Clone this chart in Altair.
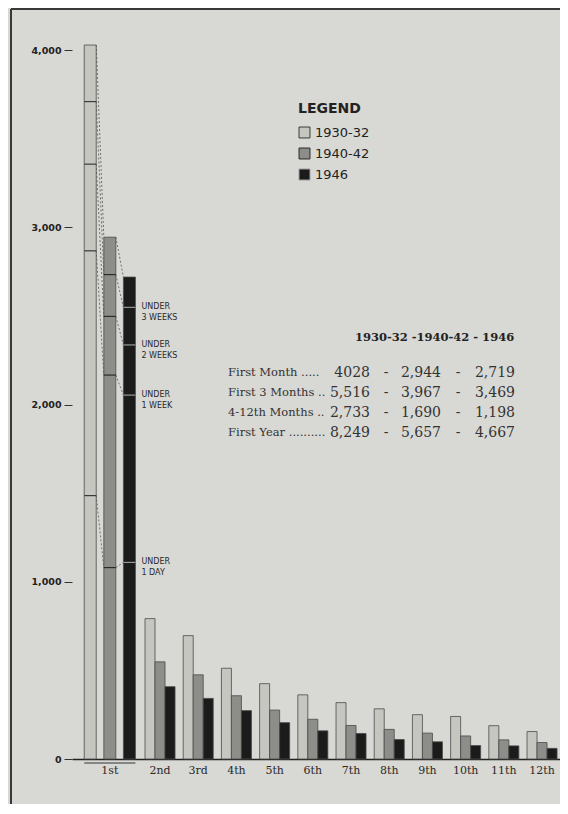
import altair as alt
import pandas as pd

# ---------------- data ----------------
months = ["1st", "2nd", "3rd", "4th", "5th", "6th", "7th", "8th", "9th", "10th", "11th", "12th"]
series = ["1930-32", "1940-42", "1946"]
rate_1930_32 = [4028, 792, 696, 512, 425, 362, 318, 283, 250, 240, 188, 155]
rate_1940_42 = [2944, 548, 475, 357, 276, 224, 189, 167, 146, 130, 108, 93]
rate_1946 = [2719, 408, 342, 273, 205, 159, 144, 110, 97, 76, 74, 60]

level_names = ["UNDER\n3 WEEKS", "UNDER\n2 WEEKS", "UNDER\n1 WEEK", "UNDER\n1 DAY"]
first_month_1930_32 = [3709, 3356, 2867, 1486]
first_month_1940_42 = [2733, 2497, 2166, 1080]
first_month_1946 = [2548, 2336, 2053, 1109]

table_header = "1930-32 -1940-42 - 1946"
table_labels = ["First Month .....", "First 3 Months ..", "4-12th Months ..", "First Year .........."]
table_1930_32 = ["4028", "5,516", "2,733", "8,249"]
table_1940_42 = ["2,944", "3,967", "1,690", "5,657"]
table_1946 = ["2,719", "3,469", "1,198", "4,667"]

y_ticks = [0, 1000, 2000, 3000, 4000]

# ---------------- layout helpers ----------------
W, H = 488, 709
rates = [rate_1930_32, rate_1940_42, rate_1946]
levels = [first_month_1930_32, first_month_1940_42, first_month_1946]


def bar_span(m, k):
    if m == 0:
        c = 0.686 + (k - 1) * 0.513
        hw = 0.157
    else:
        c = (m + 1) + (k - 1) * 0.262
        hw = 0.131
    return c - hw, c + hw


def group_center(m):
    return 0.686 if m == 0 else m + 1


bar_rows = []
for m, mon in enumerate(months):
    for k, s in enumerate(series):
        xl, xr = bar_span(m, k)
        bar_rows.append({"month": mon, "series": s, "value": rates[k][m], "xl": xl, "xr": xr})
bars_df = pd.DataFrame(bar_rows)

seg_rows = []
for k, s in enumerate(series):
    xl, xr = bar_span(0, k)
    for j, name in enumerate(level_names):
        seg_rows.append({"series": s, "level": name, "value": levels[k][j], "xl": xl, "xr": xr})
seg_df = pd.DataFrame(seg_rows)

con_rows = []
for k in range(len(series) - 1):
    a_r = bar_span(0, k)[1]
    b_l = bar_span(0, k + 1)[0]
    con_rows.append({"x": a_r, "x2": b_l, "y": rates[k][0], "y2": rates[k + 1][0]})
    for j in range(len(level_names)):
        con_rows.append({"x": a_r, "x2": b_l, "y": levels[k][j], "y2": levels[k + 1][j]})
con_df = pd.DataFrame(con_rows)

lab_df = pd.DataFrame({"month": months, "center": [group_center(m) for m in range(len(months))]})

fills = ["#c6c6c1", "#8d8d8a", "#1b1b1b"]
tick_cols = ["#3a3a3a", "#2a2a2a", "#9a9a9a"]

xs = alt.Scale(domain=[-0.304, 12.47], nice=False, zero=False)
ys = alt.Scale(domain=[0, 4000], nice=False)

bars = alt.Chart(bars_df).mark_rect(stroke="#4a4a4a", strokeWidth=0.8).encode(
    x=alt.X("xl:Q", scale=xs, axis=alt.Axis(labels=False, ticks=False, grid=False, domain=True,
                                           domainColor="#222222", domainWidth=1.4, title=None)),
    x2="xr:Q",
    y=alt.Y("value:Q", scale=ys, axis=alt.Axis(values=y_ticks, format=",d", grid=False, domain=False,
                                               tickSize=8, tickColor="#333333", labelPadding=3,
                                               labelFont="DejaVu Sans", labelFontWeight="bold",
                                               labelFontSize=9.5, labelColor="#222222", title=None)),
    y2=alt.datum(0),
    fill=alt.Fill("series:N", scale=alt.Scale(domain=series, range=fills),
                  legend=alt.Legend(title="LEGEND", orient="none", legendX=226, legendY=52,
                                    symbolType="square", symbolSize=120, symbolStrokeColor="#4a4a4a",
                                    symbolStrokeWidth=1, labelFont="DejaVu Sans", labelFontSize=13,
                                    labelColor="#222222", titleFont="DejaVu Sans", titleFontSize=14,
                                    titleFontWeight="bold", titleColor="#222222", titlePadding=10,
                                    rowPadding=6)),
)

connectors = alt.Chart(con_df).mark_rule(strokeDash=[2, 2], color="#555555", strokeWidth=0.8).encode(
    x="x:Q", x2="x2:Q", y="y:Q", y2="y2:Q"
)

seg_ticks = alt.Chart(seg_df).mark_rule(strokeWidth=1.2).encode(
    x="xl:Q", x2="xr:Q", y="value:Q",
    stroke=alt.Stroke("series:N", scale=alt.Scale(domain=series, range=tick_cols), legend=None),
)

seg_labels = alt.Chart(seg_df).transform_filter(alt.datum.series == series[-1]).mark_text(
    align="left", baseline="middle", dx=6, lineBreak="\n", font="DejaVu Sans", fontSize=8,
    color="#2a2a2a", lineHeight=11
).encode(x="xr:Q", y="value:Q", text="level:N")

month_labels = alt.Chart(lab_df).mark_text(
    baseline="top", dy=6, font="DejaVu Serif", fontSize=11, color="#2a2a2a"
).encode(x="center:Q", y=alt.datum(0), text="month:N")

underline = alt.Chart(bars_df).transform_filter(alt.datum.month == months[0]).mark_rule(
    color="#333333", strokeWidth=1
).encode(x="min(xl):Q", x2="max(xr):Q", y=alt.value(H + 4))

frame_left = alt.Chart(lab_df).mark_rule(color="#3a3a3a", strokeWidth=1.5).encode(
    x=alt.value(-61), y=alt.value(-41), y2=alt.value(H + 45)
)
frame_top = alt.Chart(lab_df).mark_rule(color="#3a3a3a", strokeWidth=1.5).encode(
    x=alt.value(-61), x2=alt.value(W), y=alt.value(-41)
)

header = alt.Chart(pd.DataFrame({"t": [table_header]})).mark_text(
    align="left", baseline="middle", font="DejaVu Serif", fontSize=11.5, fontWeight="bold", color="#222222"
).encode(x=alt.value(283), y=alt.value(288), text="t:N")

table_df = pd.DataFrame({
    "row": list(range(len(table_labels))),
    "lab": table_labels,
    "c1": table_1930_32,
    "c2": table_1940_42,
    "c3": table_1946,
})

row_layers = []
for i in range(len(table_labels)):
    d = table_df[table_df["row"] == i]
    yv = alt.value(323 + 20 * i)
    base_txt = dict(baseline="middle", font="DejaVu Serif", color="#333333")
    row_layers.append(alt.Chart(d).mark_text(align="left", fontSize=11.5, **base_txt).encode(
        x=alt.value(156), y=yv, text="lab:N"))
    row_layers.append(alt.Chart(d).mark_text(align="right", fontSize=14, **base_txt).encode(
        x=alt.value(298), y=yv, text="c1:N"))
    row_layers.append(alt.Chart(d).mark_text(align="center", fontSize=14, **base_txt).encode(
        x=alt.value(314), y=yv, text=alt.value("-")))
    row_layers.append(alt.Chart(d).mark_text(align="right", fontSize=14, **base_txt).encode(
        x=alt.value(369), y=yv, text="c2:N"))
    row_layers.append(alt.Chart(d).mark_text(align="center", fontSize=14, **base_txt).encode(
        x=alt.value(386), y=yv, text=alt.value("-")))
    row_layers.append(alt.Chart(d).mark_text(align="right", fontSize=14, **base_txt).encode(
        x=alt.value(443), y=yv, text="c3:N"))

chart = alt.layer(
    frame_left, frame_top, bars, connectors, seg_ticks, seg_labels, month_labels, underline,
    header, *row_layers
).properties(
    width=W, height=H,
    autosize=alt.AutoSizeParams(type="none"),
    padding={"left": 64, "top": 42, "right": 0, "bottom": 45},
    background="#d8d8d4",
).configure_view(stroke=None)

chart.save("out.html", embed_options={"renderer": "svg", "actions": False})
